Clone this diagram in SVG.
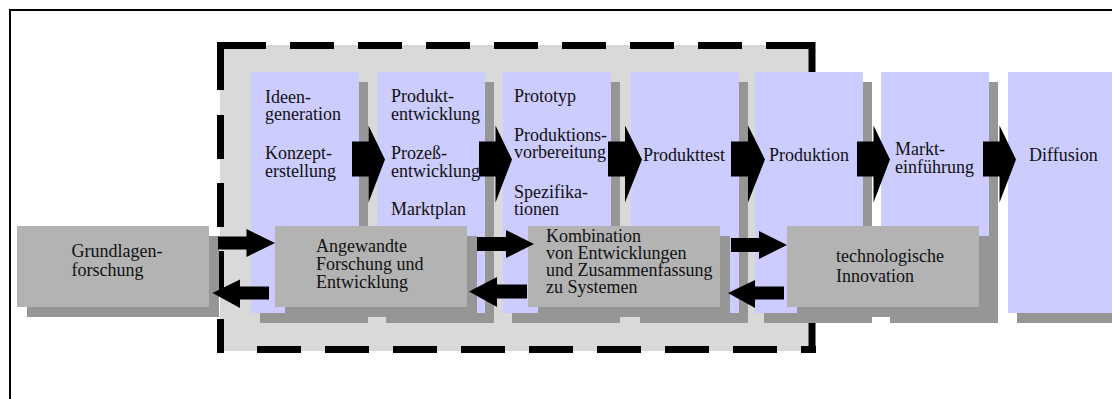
<svg xmlns="http://www.w3.org/2000/svg" width="1112" height="399" viewBox="0 0 1112 399">
<style>
.col{fill:#ccccff}
.sh{fill:#969696}
.box{fill:#b3b3b3}
.t{font-family:"Liberation Serif","Times New Roman",serif;font-size:18px;fill:#111}
.arr{fill:#000}
.dash{fill:none;stroke:#000;stroke-width:7;stroke-dasharray:44 24}
</style>
<rect x="0" y="0" width="1112" height="399" fill="#fff"/>
<path d="M10,400 V10 H1113" fill="none" stroke="#000" stroke-width="2"/>
<g id="phase-frame">
<rect x="220" y="45" width="590" height="306" fill="#d9d9d9"/>
<path class="dash" d="M222,45.5 H816"/>
<path class="dash" d="M257,349.5 H816"/>
<path class="dash" style="stroke-dasharray:48 25 44 24 44 24 44 24 44 24" d="M220.5,42 V353"/>
<path class="dash" style="stroke-dasharray:48 25 44 24 44 24 44 24 44 24" d="M812,42 V353"/>
</g>
<g id="col1">
<rect class="sh" x="260" y="82" width="108" height="241"/>
<rect class="col" x="251" y="72" width="108" height="241"/>
<text class="t" x="265" y="103">Ideen-</text>
<text class="t" x="265" y="120">generation</text>
<text class="t" x="265" y="159">Konzept-</text>
<text class="t" x="265" y="176.5">erstellung</text>
</g>
<g id="col2">
<rect class="sh" x="386" y="82" width="108" height="241"/>
<rect class="col" x="377" y="72" width="108" height="241"/>
<text class="t" x="391" y="102">Produkt-</text>
<text class="t" x="391" y="119.5">entwicklung</text>
<text class="t" x="391" y="159">Prozeß-</text>
<text class="t" x="391" y="176.5">entwicklung</text>
<text class="t" x="391" y="215">Marktplan</text>
</g>
<g id="col3">
<rect class="sh" x="512" y="82" width="108" height="241"/>
<rect class="col" x="503" y="72" width="108" height="241"/>
<text class="t" x="514" y="102">Prototyp</text>
<text class="t" x="514" y="140.5">Produktions-</text>
<text class="t" x="514" y="158">vorbereitung</text>
<text class="t" x="514" y="197.5">Spezifika-</text>
<text class="t" x="514" y="215">tionen</text>
</g>
<g id="col4">
<rect class="sh" x="640" y="82" width="108" height="241"/>
<rect class="col" x="631" y="72" width="108" height="241"/>
<text class="t" x="643" y="160.5">Produkttest</text>
</g>
<g id="col5">
<rect class="sh" x="764" y="82" width="108" height="241"/>
<rect class="col" x="755" y="72" width="108" height="241"/>
<text class="t" x="769" y="160.5">Produktion</text>
</g>
<g id="col6">
<rect class="sh" x="890" y="82" width="108" height="241"/>
<rect class="col" x="881" y="72" width="108" height="241"/>
<text class="t" x="895" y="155">Markt-</text>
<text class="t" x="895" y="172.5">einführung</text>
</g>
<g id="col7">
<rect class="sh" x="1017" y="82" width="108" height="241"/>
<rect class="col" x="1008" y="72" width="108" height="241"/>
<text class="t" x="1029" y="160.5">Diffusion</text>
</g>
<g id="box1">
<rect class="sh" x="27" y="236" width="192" height="81"/>
<rect class="box" x="17" y="226" width="192" height="81"/>
<text class="t" x="71.5" y="256.5">Grundlagen-</text>
<text class="t" x="71.5" y="275.5">forschung</text>
</g>
<g id="box2">
<rect class="sh" x="285" y="236" width="192" height="81"/>
<rect class="box" x="275" y="226" width="192" height="81"/>
<text class="t" x="316" y="252">Angewandte</text>
<text class="t" x="316" y="270">Forschung und</text>
<text class="t" x="316" y="288">Entwicklung</text>
</g>
<g id="box3">
<rect class="sh" x="538" y="236" width="192" height="81"/>
<rect class="box" x="528" y="226" width="192" height="81"/>
<text class="t" x="546" y="241.5">Kombination</text>
<text class="t" x="546" y="259">von Entwicklungen</text>
<text class="t" x="546" y="276">und Zusammenfassung</text>
<text class="t" x="546" y="293">zu Systemen</text>
</g>
<g id="box4">
<rect class="sh" x="797" y="236" width="192" height="81"/>
<rect class="box" x="787" y="226" width="192" height="81"/>
<text class="t" x="836" y="262">technologische</text>
<text class="t" x="836" y="282">Innovation</text>
</g>
<g id="connectors">
<polygon class="arr" points="352,141.5 368.5,141.5 368.5,125.5 385,159.5 368.5,202.5 368.5,176.5 352,176.5"/>
<polygon class="arr" points="479,141.5 495.5,141.5 495.5,125.5 512,159.5 495.5,202.5 495.5,176.5 479,176.5"/>
<polygon class="arr" points="608,141.5 625,141.5 625,125.5 642,159.5 625,202.5 625,176.5 608,176.5"/>
<polygon class="arr" points="731,141.5 748,141.5 748,125.5 765,159.5 748,202.5 748,176.5 731,176.5"/>
<polygon class="arr" points="857,141.5 873.5,141.5 873.5,125.5 890,159.5 873.5,202.5 873.5,176.5 857,176.5"/>
<polygon class="arr" points="983,141.5 999.5,141.5 999.5,125.5 1016,159.5 999.5,202.5 999.5,176.5 983,176.5"/>
<polygon class="arr" points="218,236.5 246.5,236.5 246.5,229 275,243 246.5,257 246.5,249.5 218,249.5"/>
<polygon class="arr" points="477,237 506,237 506,230 534,244 506,258 506,251 477,251"/>
<polygon class="arr" points="731,238 759,238 759,231 787,245 759,259 759,252 731,252"/>
<polygon class="arr" points="269,286.5 240,286.5 240,279.5 212.5,293 240,308 240,299.5 269,299.5"/>
<polygon class="arr" points="527,284.5 497,284.5 497,277 469,291.5 497,307 497,298.5 527,298.5"/>
<polygon class="arr" points="784,286.5 755,286.5 755,280 728,293 755,308 755,299.5 784,299.5"/>
</g>
</svg>
